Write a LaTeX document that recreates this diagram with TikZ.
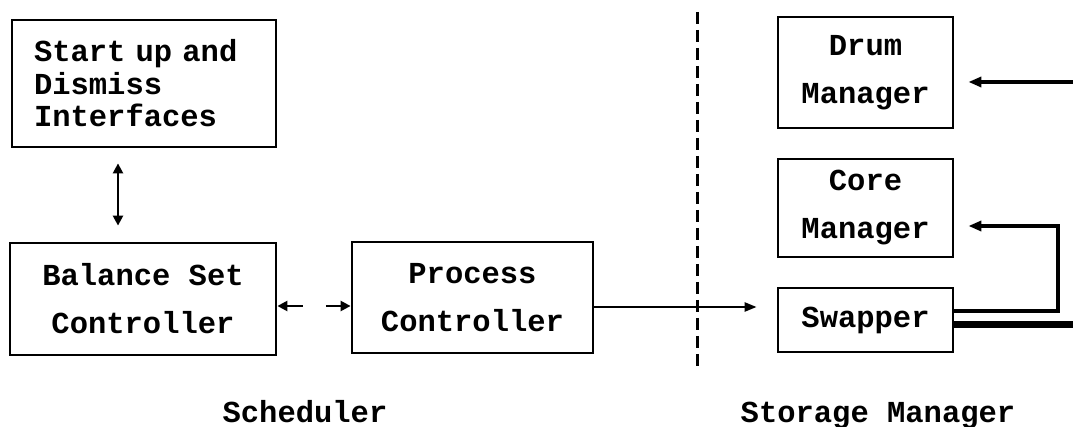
\documentclass[tikz,border=0pt]{standalone}
\usepackage{fontspec}
\newfontfamily\typefont{Liberation Mono}
\usetikzlibrary{arrows.meta, positioning, calc}

\begin{document}
\begin{tikzpicture}[
    x=1pt, y=-1pt,
    every node/.style={font=\typefont\bfseries\fontsize{30.5}{48}\selectfont},
    module/.style={draw, line width=2.8pt, inner sep=0pt, align=center},
    link/.style={{Triangle[length=10pt,width=10pt]}-{Triangle[length=10pt,width=10pt]}, line width=2.4pt},
    feed/.style={-{Triangle[length=13pt,width=10pt]}, line width=4pt},
    border/.style={line width=3pt, dash pattern=on 12pt off 6pt}
  ]
    \useasboundingbox (0,0) rectangle (1073,427);

    % Scheduler side
    \node[module, minimum width=264pt, minimum height=127pt, align=left, text width=220pt,
          font=\typefont\bfseries\fontsize{30.5}{32.5}\selectfont]
      (start) at (144,83.5) {Start up and\\Dismiss\\Interfaces};
    \node[module, minimum width=266pt, minimum height=112pt] (bsc) at (143,299) {Balance Set\\Controller};
    \node[module, minimum width=241pt, minimum height=111pt] (pc) at (472.5,297.5) {Process\\Controller};

    % Storage manager side
    \node[module, minimum width=175pt, minimum height=111pt] (drum) at (865.5,72.5) {Drum\\Manager};
    \node[module, minimum width=175pt, minimum height=98pt] (core) at (865.5,208) {Core\\Manager};
    \node[module, minimum width=175pt, minimum height=64pt] (swap) at (865.5,320) {Swapper};

    % Boundary between the two
    \draw[border] (697,12) -- (697,368);

    % Connections
    \draw[link, shorten <=15pt, shorten >=16pt]
      ([xshift=-26pt]start.south) -- ([xshift=-26pt]start.south |- bsc.north);
    \draw[link, dash pattern=on 16pt off 23pt on 40pt]
      ([yshift=-7pt]bsc.east) -- ([yshift=-7pt]bsc.east -| pc.west);
    \draw[-{Triangle[length=12pt,width=9pt]}, line width=2.4pt, shorten >=20pt]
      ([yshift=-9.5pt]pc.east) -- ([yshift=-9.5pt]pc.east -| swap.west);

    \coordinate (drumin) at (1073,82);
    \coordinate (bend) at (1058,226);
    \coordinate (swapout) at (1073,325);
    \draw[feed] (drumin) -- ([xshift=14pt]drumin -| drum.east);
    \draw[feed] ([yshift=9pt]swap.east) -| (bend) -- ([xshift=14pt]bend -| core.east);
    \draw[line width=7pt] ([yshift=-5pt]swap.east) -- (swapout);

    % Group labels
    \node[anchor=base] (sched) at (305,422) {Scheduler};
    \node[anchor=base] (store) at (878,422) {Storage Manager};

  \end{tikzpicture}
\end{document}
